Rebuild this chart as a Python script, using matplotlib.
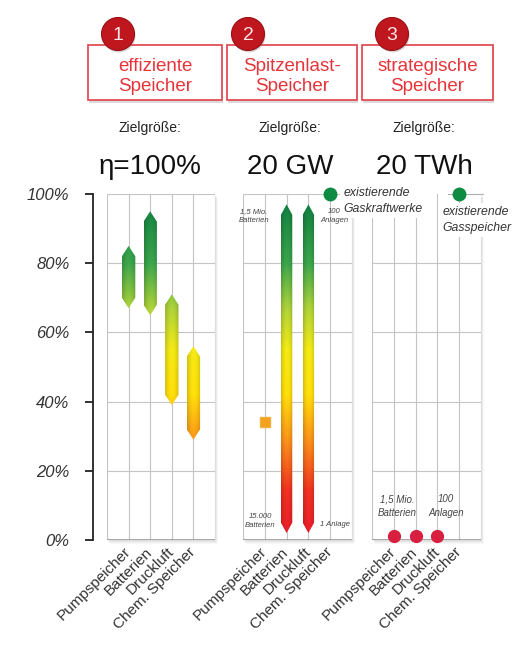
import numpy as np
import matplotlib
matplotlib.use('Agg')
import matplotlib.pyplot as plt
from matplotlib.patches import Polygon, Rectangle, Circle
from matplotlib.colors import LinearSegmentedColormap, Normalize
from matplotlib.transforms import ScaledTranslation

plt.rcParams['font.family'] = ['Liberation Sans', 'DejaVu Sans']

# data
categories = ['Pumpspeicher', 'Batterien', 'Druckluft', 'Chem. Speicher']
yticks = [0, 20, 40, 60, 80, 100]

# 1: efficiency ranges
eff_low = [67, 65, 39, 29]
eff_high = [85, 95, 71, 56]

# 2: peak load storage
peak_cats = [1, 2]
peak_low = [2, 2]
peak_high = [97, 97]
peak_pump = 34
peak_gas = 100

# 3: strategic storage
strat_cats = [0, 1, 2]
strat_vals = [1.3, 1.3, 1.3]
strat_gas = 100

headers = ['effiziente\nSpeicher', 'Spitzenlast-\nSpeicher', 'strategische\nSpeicher']
targets = ['\u03b7=100%', '20 GW', '20 TWh']

W, H = 522, 652
fig = plt.figure(figsize=(W / 100, H / 100), dpi=100)
fig.patch.set_facecolor('white')


def px_box(l, t, r, b):
    return [l / W, 1 - b / H, (r - l) / W, (b - t) / H]


panels = [(107, 194, 215, 540), (243, 194, 352, 540), (372, 194, 481, 540)]

# background axes for shadows
bg = fig.add_axes([0, 0, 1, 1], zorder=0)
bg.set_xlim(0, W)
bg.set_ylim(H, 0)
bg.axis('off')
for (l, t, r, b) in panels:
    for k in range(1, 6):
        bg.add_patch(Rectangle((l + k * 0.6, t + k * 0.8), r - l, b - t,
                               facecolor='#777777', alpha=0.05, lw=0))

cmap = LinearSegmentedColormap.from_list('eff', [
    (0.00, '#e01a2a'), (0.14, '#e8301f'), (0.28, '#f28a1a'),
    (0.42, '#f8d80a'), (0.55, '#ece214'), (0.67, '#a8cc38'),
    (0.80, '#3aa04a'), (1.00, '#0a763c')])
norm = Normalize(0, 100)


def grad_bar(ax, x, lo, hi, w, tip):
    verts = [(x - w / 2, lo + tip), (x, lo), (x + w / 2, lo + tip),
             (x + w / 2, hi - tip), (x, hi), (x - w / 2, hi - tip)]
    poly = Polygon(verts, closed=True, facecolor='none', edgecolor='none')
    ax.add_patch(poly)
    ys = np.linspace(lo, hi, 200)
    cols = cmap(norm(ys))[:, :3]
    xs = np.linspace(-1, 1, 30)
    shade = 0.86 + 0.18 * (1 - xs ** 2)
    img = np.clip(cols[:, None, :] * shade[None, :, None], 0, 1)
    im = ax.imshow(img, extent=[x - w / 2, x + w / 2, lo, hi], origin='lower',
                   aspect='auto', interpolation='bilinear', zorder=3)
    im.set_clip_path(poly)


shift = ScaledTranslation(-9 / 100, 0, fig.dpi_scale_trans)
axes = []
for i, box in enumerate(panels):
    ax = fig.add_axes(px_box(*box), zorder=1)
    ax.set_facecolor('white')
    for s in ax.spines.values():
        s.set_visible(False)
    grid_kw = dict(color='#c4c4c4', lw=0.8, zorder=1)
    for v in [20, 40, 60, 80]:
        ax.axhline(v, **grid_kw)
    if i < 2:
        ax.axhline(100, **grid_kw)
    for v in range(-1, 5):
        ax.axvline(v, **grid_kw)
    ax.axhline(0, color='#8c8c8c', lw=1.8, zorder=2)
    ax.set_xticks(range(len(categories)))
    ax.set_xticklabels(categories, rotation=45, ha='right', va='center',
                       rotation_mode='anchor', fontsize=11, color='#333333')
    for lab in ax.get_xticklabels():
        lab.set_transform(lab.get_transform() + shift)
    ax.tick_params(axis='x', length=0, pad=7)
    ax.set_yticks(yticks)
    axes.append(ax)

ax1, ax2, ax3 = axes

# panel 1
for x, lo, hi in zip(range(4), eff_low, eff_high):
    grad_bar(ax1, x, lo, hi, 0.62, 3)
ax1.spines['left'].set_visible(True)
ax1.spines['left'].set_position(('outward', 10))
ax1.spines['left'].set_color('#222222')
ax1.spines['left'].set_linewidth(1.3)
ax1.set_yticklabels([f'{v}%' for v in yticks], fontsize=12,
                    fontstyle='italic', color='#333333')
ax1.tick_params(axis='y', length=6, width=1.3, color='#222222', pad=11)

# panel 2
for x, lo, hi in zip(peak_cats, peak_low, peak_high):
    grad_bar(ax2, x, lo, hi, 0.52, 3)
ax2.plot(0, peak_pump, 's', color='#f4a21e', ms=7, mec='#f0b040', zorder=4)
ax2.plot(3, peak_gas, 'o', color='#0e8a42', ms=9, zorder=4, clip_on=False)
ax2.tick_params(axis='y', left=False, labelleft=False)
small = dict(fontsize=5.5, fontstyle='italic', color='#444444', ha='center',
             va='center', linespacing=1.4, zorder=5)
ax2.text(-0.5, 93.6, '1,5 Mio.\nBatterien', **small)
ax2.text(3.2, 93.6, '100\nAnlagen', **small)
ax2.text(-0.2, 5.5, '15.000\nBatterien', **small)
ax2.text(3.2, 4.5, '1 Anlage', **small)

# panel 3
ax3.plot([2.5, 4.1], [strat_gas, strat_gas], color='#b0b0b0', lw=0.8,
         zorder=3, clip_on=False)
ax3.plot(3, strat_gas, 'o', color='#0e8a42', ms=9, zorder=4, clip_on=False)
ax3.plot(strat_cats, strat_vals, 'o', color='#d81f3f', ms=8.5, zorder=4,
         clip_on=False)
ax3.tick_params(axis='y', left=False, labelleft=False)
mid = dict(fontsize=7, fontstyle='italic', color='#444444', ha='center',
           va='center', linespacing=1.5, zorder=5)
ax3.text(0.15, 9.8, '1,5 Mio.\nBatterien', **mid)
ax3.text(2.4, 9.8, '100\nAnlagen', **mid)

for ax in axes:
    ax.set_xlim(-1, 4)
    ax.set_ylim(0, 100)

# overlay for headers and callouts
ov = fig.add_axes([0, 0, 1, 1], zorder=5)
ov.set_xlim(0, W)
ov.set_ylim(H, 0)
ov.axis('off')
ov.patch.set_alpha(0)

big = dict(fontsize=8.8, fontstyle='italic', color='#333333', ha='left',
           va='top', linespacing=1.45,
           bbox=dict(facecolor='white', edgecolor='none', pad=2))
ov.text(3.6, 102, 'existierende\nGaskraftwerke', transform=ax2.transData, **big)
ov.text(2.25, 96.5, 'existierende\nGasspeicher', transform=ax3.transData, **big)

header_boxes = [(88, 45, 222, 100), (227, 45, 357, 100), (362, 45, 493, 100)]
circles = [(118, 34), (248, 34), (392, 34)]
for i, ((l, t, r, b), (cx, cy)) in enumerate(zip(header_boxes, circles)):
    ov.add_patch(Rectangle((l + 1, t + 3), r - l, b - t, facecolor='#999999',
                           alpha=0.35, lw=0))
    ov.add_patch(Rectangle((l, t), r - l, b - t, facecolor='white',
                           edgecolor='#e04048', lw=1.2))
    ov.text((l + r) / 2, (t + b) / 2 + 4, headers[i], ha='center', va='center',
            fontsize=13.5, color='#e5343a', linespacing=1.3)
    ov.add_patch(Circle((cx + 1, cy + 2), 16.5, facecolor='#888888', alpha=0.3, lw=0))
    ov.add_patch(Circle((cx, cy), 16.5, facecolor='#c0161e', edgecolor='#9a1016', lw=0.8))
    ov.text(cx, cy + 1, str(i + 1), ha='center', va='center', fontsize=14,
            color='#fbe6e6')

centers = [150, 290, 424]
for cx, tgt in zip(centers, targets):
    ov.text(cx, 132, 'Zielgr\u00f6\u00dfe:', ha='center', va='baseline',
            fontsize=10, color='#222222')
    ov.text(cx, 174, tgt, ha='center', va='baseline', fontsize=20,
            color='#111111')

fig.savefig('out.png', dpi=100, facecolor='white')
